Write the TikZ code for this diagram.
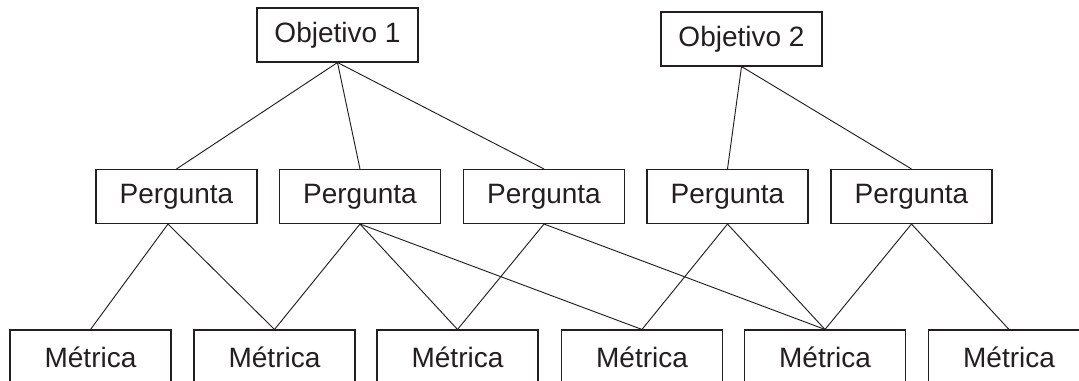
\documentclass[tikz,border=0pt]{standalone}
\usepackage{fontspec}
\setmainfont{Liberation Sans}
\definecolor{ink}{HTML}{231F20}
\begin{document}
\begin{tikzpicture}[x=0.75pt,y=-0.75pt,
  box/.style={draw=ink,line width=0.8pt,rectangle,minimum width=120.75pt,minimum height=40.5pt,inner sep=0pt,text=ink,font=\fontsize{21}{25}\selectfont},
  link/.style={draw=ink,line width=0.7pt}]
\clip (0,0) rectangle (1079,381);
\fill[white] (0,0) rectangle (1079,381);
% top row
\node[box] (o1) at (337.5,35) {Objetivo 1};
\node[box] (o2) at (741.5,39) {Objetivo 2};
% middle row
\node[box] (p1) at (176.5,196.5) {Pergunta};
\node[box] (p2) at (360,196.5) {Pergunta};
\node[box] (p3) at (544,196.5) {Pergunta};
\node[box] (p4) at (727.5,196.5) {Pergunta};
\node[box] (p5) at (911.5,196.5) {Pergunta};
% bottom row
\node[box] (m1) at (90.5,357) {Métrica};
\node[box] (m2) at (274.5,357) {Métrica};
\node[box] (m3) at (457.5,357) {Métrica};
\node[box] (m4) at (642,357) {Métrica};
\node[box] (m5) at (825,357) {Métrica};
\node[box] (m6) at (1009,357) {Métrica};
% connectors
\draw[link] (o1.south) -- (p1.north);
\draw[link] (o1.south) -- (p2.north);
\draw[link] (o1.south) -- (p3.north);
\draw[link] (o2.south) -- (p4.north);
\draw[link] (o2.south) -- (p5.north);
\coordinate (p1b) at ([xshift=-6.4pt]p1.south);
\draw[link] (p1b) -- (m1.north);
\draw[link] (p1b) -- (m2.north);
\draw[link] (p2.south) -- (m2.north);
\draw[link] (p2.south) -- (m3.north);
\draw[link] (p2.south) -- (m4.north);
\draw[link] (p3.south) -- (m3.north);
\draw[link] (p3.south) -- (m5.north);
\draw[link] (p4.south) -- (m4.north);
\draw[link] (p4.south) -- (m5.north);
\draw[link] (p5.south) -- (m5.north);
\draw[link] (p5.south) -- (m6.north);
\end{tikzpicture}
\end{document}
